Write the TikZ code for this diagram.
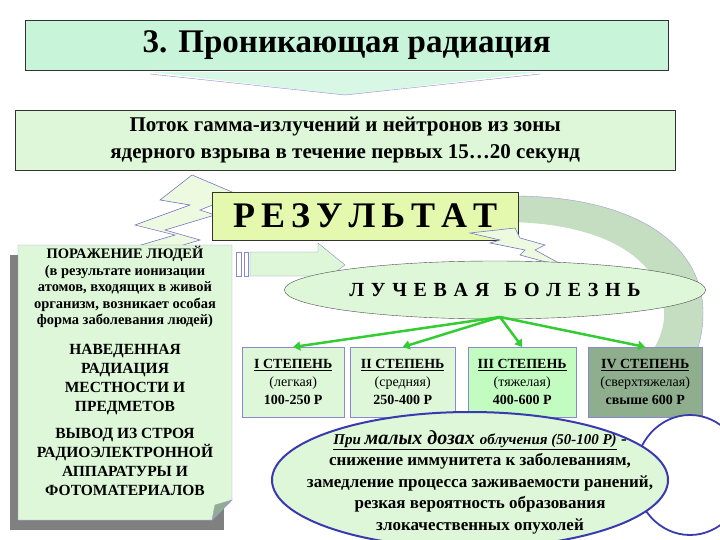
\documentclass[tikz,border=0pt]{standalone}
\usepackage{fontspec}
\setmainfont{Liberation Serif}
\usetikzlibrary{shapes.geometric,arrows.meta}
\definecolor{lg}{HTML}{DDF7D8}
\definecolor{mint}{HTML}{C8F5DA}
\definecolor{pale}{HTML}{EEFADF}
\definecolor{dk}{HTML}{8FAE8E}
\definecolor{curv}{HTML}{C5DDC0}
\definecolor{bl}{HTML}{3A3AB0}
\definecolor{gr}{HTML}{33CC33}
\tikzset{
  box/.style={draw=black!80,fill=lg,align=center,font=\bfseries,inner sep=2pt},
  deg/.style={draw=bl!60,fill=lg,align=center,font=\bfseries\fontsize{14}{16}\selectfont,minimum width=102pt,minimum height=70pt,anchor=north west,inner sep=1pt},
  garr/.style={gr,line width=2.5pt,-{Triangle[length=7pt,width=9pt]}},
  bolt/.style={draw=bl!70,fill=pale,line width=0.6pt}
}
\begin{document}
\begin{tikzpicture}[x=1pt,y=-1pt]
\useasboundingbox (0,0) rectangle (720,540);
% title
\fill[mint!70!white] (150,72) -- (540,72) -- (345,95) -- cycle;
\draw[bl!60] (150,74) -- (345,95) -- (540,74);
\node[box,fill=mint,minimum width=643pt,minimum height=50pt,anchor=north west,font=\bfseries\fontsize{33}{36}\selectfont] (title) at (25,20) {3. Проникающая радиация};
% subtitle
\node[box,minimum width=660pt,minimum height=60pt,anchor=north west,font=\bfseries\fontsize{21}{27}\selectfont] (sub) at (15,110) {Поток гамма-излучений и нейтронов из зоны\\ядерного взрыва в течение первых 15…20 секунд};
% curved arrow
\fill[curv] (510,196) .. controls (640,195) and (720,250) .. (700,340) .. controls (690,380) and (670,400) .. (650,410)
  -- (645,390) -- (600,412) -- (630,350) -- (640,365) .. controls (690,320) and (670,225) .. (510,222) -- cycle;
\draw[bl!50,thin] (510,196) .. controls (640,195) and (720,250) .. (700,340) .. controls (690,380) and (670,400) .. (650,410);
% left bolt
\draw[bolt] (232,192) -- (192,175) -- (160,200) -- (190,205) -- (135,225) -- (175,235) -- (90,260) -- (150,255) -- (200,240) -- (165,230) -- (215,215) -- (200,210) -- (225,200) -- cycle;
% result box
\node[box,fill=lg!80!yellow,minimum width=306pt,minimum height=48pt,anchor=north west,font=\bfseries\fontsize{36}{40}\selectfont] (res) at (212,192) {Р\,Е\,З\,У\,Л\,Ь\,Т\,А\,Т};
% small bolt
\draw[bolt] (470,233) -- (515,228) -- (520,238) -- (545,245) -- (535,250) -- (568,268) -- (520,255) -- (525,250) -- (490,243) -- (500,240) -- cycle;
% double arrow
\draw[bl!60,fill=lg] (250,252) -- (318,252) -- (318,243) -- (345,265) -- (318,285) -- (318,276) -- (250,276) -- cycle;
\draw[bl!60,fill=white] (236,252) rectangle (241,276) (244,252) rectangle (248,276);
% ellipse
\node[ellipse,draw=black!70,fill=lg,minimum width=360pt,minimum height=58pt,font=\bfseries\fontsize{20}{22}\selectfont] (ell) at (495,290) {Л\,\,У\,\,Ч\,\,Е\,\,В\,\,А\,\,Я\ \ \ Б\,\,О\,\,Л\,\,Е\,\,З\,\,Н\,\,Ь};
% left note
\fill[gray] (10,255) rectangle (224,530);
\draw[bl!50,fill=lg] (18,245) -- (232,245) -- (232,500) -- (212,520) -- (18,520) -- cycle;
\draw[bl!50,fill=dk] (232,500) -- (215,505) -- (212,520) -- cycle;
\node[align=center,font=\bfseries\fontsize{14.5}{16.5}\selectfont,anchor=north,inner sep=0pt] (les) at (125,246) {ПОРАЖЕНИЕ ЛЮДЕЙ\\(в результате ионизации\\атомов, входящих в живой\\организм, возникает особая\\форма заболевания людей)};
\node[align=center,font=\bfseries\fontsize{15.5}{19}\selectfont,anchor=north,inner sep=0pt] (nav) at (125,344) {НАВЕДЕННАЯ\\РАДИАЦИЯ\\МЕСТНОСТИ И\\ПРЕДМЕТОВ};
\node[align=center,font=\bfseries\fontsize{15.5}{19}\selectfont,anchor=north,inner sep=0pt] (vyv) at (125,428) {ВЫВОД ИЗ СТРОЯ\\РАДИОЭЛЕКТРОННОЙ\\АППАРАТУРЫ И\\ФОТОМАТЕРИАЛОВ};
% degree boxes
\node[deg] (d1) at (242,347) {\underline{I СТЕПЕНЬ}\\[2pt]\mdseries(легкая)\\[2pt]100-250 Р};
\node[deg,minimum width=105pt] (d2) at (350,347) {\underline{II СТЕПЕНЬ}\\[2pt]\mdseries(средняя)\\[2pt]250-400 Р};
\node[deg,fill=lg!70!green!60!white,minimum width=108pt] (d3) at (468,347) {\underline{III СТЕПЕНЬ}\\[2pt]\mdseries(тяжелая)\\[2pt]400-600 Р};
\node[deg,fill=dk,minimum width=114pt] (d4) at (588,347) {\underline{IV СТЕПЕНЬ}\\[2pt]\mdseries(сверхтяжелая)\\[2pt]свыше 600 Р};
\coordinate (hub) at (500,317);
\draw[garr] (hub) -- (d1.north);
\draw[garr] (hub) -- (d2.north);
\draw[garr] (hub) -- (d3.north);
\draw[garr] (hub) -- (d4.north);
% bottom
\draw[bl,line width=1.8pt,fill=white] (690,475) ellipse (55pt and 60pt);
\draw[bl,line width=2pt,fill=lg] (470,480) ellipse (198pt and 68pt);
\node[align=center,font=\bfseries\fontsize{17}{21.5}\selectfont] (low) at (480,482) {\underline{\itshape\fontsize{15}{21.5}\selectfont При \fontsize{20}{21.5}\selectfont малых дозах \fontsize{15}{21.5}\selectfont облучения (50-100 Р)} -\\снижение иммунитета к заболеваниям,\\замедление процесса заживаемости ранений,\\резкая вероятность образования\\злокачественных опухолей};
\end{tikzpicture}
\end{document}
